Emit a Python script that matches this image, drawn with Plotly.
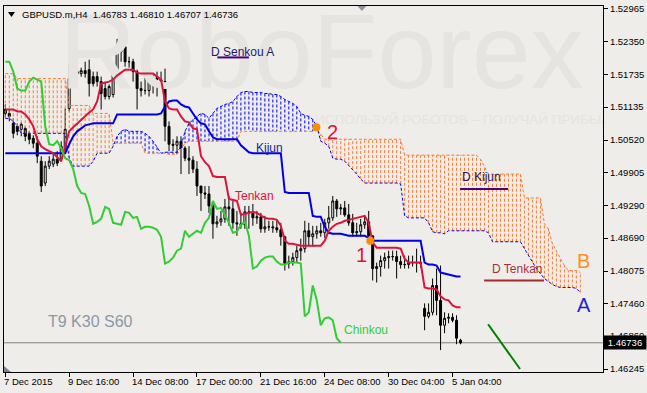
import plotly.graph_objects as go

# ---------------- axis labels ----------------
xtick_idx = [0, 16, 32, 48, 64, 80, 96, 112]
xtick_text = ["7 Dec 2015", "9 Dec 16:00", "14 Dec 08:00", "17 Dec 00:00",
              "21 Dec 16:00", "24 Dec 08:00", "30 Dec 04:00", "5 Jan 04:00"]
ytick_vals = [1.52965, 1.52350, 1.51735, 1.51135, 1.50520, 1.49905,
              1.49290, 1.48690, 1.48075, 1.47460, 1.46860, 1.46245]
ytick_text = ["1.52965", "1.52350", "1.51735", "1.51135", "1.50520", "1.49905",
              "1.49290", "1.48690", "1.48075", "1.47460", "1.46860", "1.46245"]

# ---------------- H4 candles (bar index 0 = 7 Dec 2015 00:00) ----------------
open_ = [1.51090, 1.51016, 1.50831, 1.50775, 1.50719, 1.50738, 1.50627, 1.50552, 1.50460, 1.50125,
         1.49717, 1.50033, 1.50070, 1.50162, 1.50181, 1.50367, 1.51109, 1.51666, 1.51796, 1.51759,
         1.51814, 1.51833, 1.51703, 1.51703, 1.51610, 1.51480, 1.51332, 1.51369, 1.51703, 1.52167,
         1.52260, 1.51981, 1.51981, 1.51796, 1.51480, 1.51443, 1.51443, 1.51610, 1.51684, 1.51647,
         1.51610, 1.50775, 1.50441, 1.50422, 1.50497, 1.50367, 1.50181, 1.50144, 1.49977, 1.49661,
         1.49532, 1.49513, 1.49290, 1.48956, 1.48993, 1.49049, 1.49272, 1.49235, 1.48975, 1.48956,
         1.48938, 1.49179, 1.49160, 1.49067, 1.49086, 1.48863, 1.48900, 1.48900, 1.48882, 1.48845,
         1.48715, 1.48214, 1.48251, 1.48325, 1.48455, 1.48492, 1.48826, 1.48715, 1.48770, 1.48826,
         1.48789, 1.48975, 1.49067, 1.49383, 1.49235, 1.49253, 1.49123, 1.48975, 1.48789, 1.48808,
         1.48938, 1.48993, 1.48733, 1.48121, 1.48158, 1.48269, 1.48325, 1.48344, 1.48344, 1.48251,
         1.48195, 1.48195, 1.48232, 1.48232, 1.48232, 1.47378, 1.47230, 1.47304, 1.47805, 1.47527,
         1.47063, 1.47193, 1.47211, 1.47156, 1.46783]
high_ = [1.51183, 1.51090, 1.50924, 1.50831, 1.50849, 1.50775, 1.50682, 1.50608, 1.50589, 1.50218,
         1.50125, 1.50218, 1.50255, 1.50311, 1.50497, 1.51109, 1.51926, 1.51944, 1.51889, 1.51870,
         1.51981, 1.52019, 1.51796, 1.51796, 1.51703, 1.51610, 1.51555, 1.51796, 1.52408, 1.52353,
         1.52390, 1.52074, 1.52037, 1.51833, 1.51610, 1.51703, 1.51703, 1.51759, 1.51796, 1.51796,
         1.51852, 1.50868, 1.50534, 1.50589, 1.50589, 1.50404, 1.50404, 1.50218, 1.50125, 1.49661,
         1.49661, 1.49661, 1.49383, 1.49105, 1.49197, 1.49420, 1.49476, 1.49383, 1.49197, 1.49160,
         1.49290, 1.49290, 1.49327, 1.49197, 1.49160, 1.49105, 1.49012, 1.49012, 1.49012, 1.48975,
         1.48733, 1.48362, 1.48418, 1.48548, 1.48678, 1.49012, 1.48975, 1.48919, 1.48919, 1.48975,
         1.49049, 1.49290, 1.49476, 1.49420, 1.49327, 1.49383, 1.49327, 1.49142, 1.48975, 1.49049,
         1.49105, 1.49197, 1.48733, 1.48232, 1.48362, 1.48418, 1.48455, 1.48455, 1.48455, 1.48362,
         1.48362, 1.48362, 1.48362, 1.48492, 1.48362, 1.47471, 1.47471, 1.47935, 1.48121, 1.48177,
         1.47304, 1.47286, 1.47286, 1.47249, 1.46810]
low_ = [1.50942, 1.50868, 1.50552, 1.50608, 1.50589, 1.50497, 1.50441, 1.50367, 1.50088, 1.49550,
        1.49661, 1.49977, 1.50014, 1.50033, 1.50125, 1.50311, 1.51053, 1.51610, 1.51703, 1.51703,
        1.51684, 1.51332, 1.51518, 1.51518, 1.51090, 1.51276, 1.51276, 1.51313, 1.51647, 1.51981,
        1.51889, 1.51870, 1.51610, 1.51090, 1.51332, 1.51369, 1.51332, 1.51388, 1.51332, 1.51518,
        1.50497, 1.50311, 1.50311, 1.50274, 1.49884, 1.50125, 1.49884, 1.49903, 1.49476, 1.49197,
        1.49420, 1.49160, 1.48678, 1.48882, 1.48919, 1.48975, 1.48919, 1.48863, 1.48733, 1.48863,
        1.48863, 1.48863, 1.48919, 1.48956, 1.48789, 1.48789, 1.48826, 1.48789, 1.48789, 1.48548,
        1.48084, 1.48121, 1.48177, 1.48232, 1.48269, 1.48418, 1.48548, 1.48529, 1.48678, 1.48715,
        1.48696, 1.48863, 1.49012, 1.49086, 1.49123, 1.49086, 1.48919, 1.48715, 1.48715, 1.48715,
        1.48863, 1.48641, 1.47898, 1.47861, 1.47972, 1.48121, 1.48121, 1.48269, 1.47935, 1.48121,
        1.48121, 1.48121, 1.48158, 1.48047, 1.48139, 1.46970, 1.47193, 1.47249, 1.47249, 1.46599,
        1.46914, 1.47100, 1.47119, 1.46710, 1.46707]
close_ = [1.51016, 1.50961, 1.50645, 1.50682, 1.50812, 1.50589, 1.50534, 1.50460, 1.50218, 1.49661,
          1.50033, 1.50125, 1.50162, 1.50088, 1.50404, 1.50719, 1.51666, 1.51814, 1.51759, 1.51814,
          1.51759, 1.51573, 1.51573, 1.51610, 1.51388, 1.51332, 1.51518, 1.51740, 1.52204, 1.52260,
          1.51981, 1.51981, 1.51796, 1.51480, 1.51443, 1.51443, 1.51610, 1.51684, 1.51647, 1.51610,
          1.50775, 1.50441, 1.50422, 1.50497, 1.50367, 1.50181, 1.50144, 1.49977, 1.49661, 1.49532,
          1.49513, 1.49290, 1.48956, 1.48993, 1.49049, 1.49272, 1.49235, 1.48975, 1.48956, 1.48938,
          1.49179, 1.49160, 1.49067, 1.49086, 1.48863, 1.48900, 1.48900, 1.48882, 1.48845, 1.48715,
          1.48214, 1.48251, 1.48325, 1.48455, 1.48492, 1.48826, 1.48715, 1.48770, 1.48826, 1.48789,
          1.48975, 1.49067, 1.49383, 1.49235, 1.49253, 1.49123, 1.48975, 1.48789, 1.48808, 1.48938,
          1.48993, 1.48733, 1.48121, 1.48158, 1.48269, 1.48325, 1.48344, 1.48344, 1.48251, 1.48195,
          1.48195, 1.48232, 1.48232, 1.48232, 1.48214, 1.47230, 1.47304, 1.47805, 1.47527, 1.47063,
          1.47193, 1.47211, 1.47156, 1.46822, 1.46736]

# ---------------- Ichimoku (9, 30, 60) ----------------
tenkan = [1.51090, 1.51090, 1.51090, 1.51053, 1.51053, 1.50998, 1.50905, 1.50775, 1.50534, 1.50404,
          1.50348, 1.50311, 1.50274, 1.50200, 1.50125, 1.50404, 1.50682, 1.50757, 1.50831, 1.50905,
          1.50961, 1.51035, 1.51090, 1.51239, 1.51573, 1.51592, 1.51610, 1.51647, 1.51722, 1.51777,
          1.51833, 1.51833, 1.51833, 1.51777, 1.51759, 1.51759, 1.51759, 1.51759, 1.51703, 1.51647,
          1.51239, 1.51109, 1.51090, 1.51090, 1.50961, 1.50868, 1.50849, 1.50738, 1.50719, 1.50218,
          1.50107, 1.50033, 1.49847, 1.49828, 1.49828, 1.49828, 1.49420, 1.49402, 1.49383, 1.49123,
          1.49142, 1.49160, 1.49179, 1.49160, 1.49105, 1.49067, 1.49049, 1.49049, 1.49030, 1.48919,
          1.48641, 1.48585, 1.48585, 1.48566, 1.48548, 1.48548, 1.48548, 1.48548, 1.48548, 1.48548,
          1.48641, 1.48826, 1.48900, 1.48956, 1.48975, 1.49012, 1.49030, 1.49049, 1.49067, 1.49086,
          1.49105, 1.48975, 1.48603, 1.48511, 1.48511, 1.48511, 1.48511, 1.48511, 1.48511, 1.48492,
          1.48306, 1.48232, 1.48232, 1.48232, 1.48232, 1.47768, 1.47750, 1.47750, 1.47731, 1.47601,
          1.47546, 1.47527, 1.47434, 1.47397, 1.47397]
kijun = [1.50274, 1.50274, 1.50274, 1.50274, 1.50274, 1.50274, 1.50274, 1.50274, 1.50274, 1.50274,
         1.50274, 1.50274, 1.50274, 1.50274, 1.50274, 1.50274, 1.50441, 1.50589, 1.50682, 1.50738,
         1.50794, 1.50812, 1.50831, 1.50831, 1.50831, 1.50831, 1.50831, 1.50831, 1.50998, 1.50998,
         1.50998, 1.50998, 1.50998, 1.50998, 1.50998, 1.50998, 1.50998, 1.50998, 1.50998, 1.51016,
         1.51146, 1.51239, 1.51258, 1.51258, 1.51183, 1.51146, 1.51128, 1.51016, 1.50905, 1.50831,
         1.50812, 1.50682, 1.50571, 1.50534, 1.50534, 1.50534, 1.50534, 1.50534, 1.50534, 1.50422,
         1.50348, 1.50292, 1.50274, 1.50274, 1.50274, 1.50274, 1.50274, 1.50274, 1.50274, 1.50274,
         1.49550, 1.49532, 1.49532, 1.49532, 1.49532, 1.49532, 1.49532, 1.49105, 1.49086, 1.49086,
         1.48900, 1.48789, 1.48770, 1.48770, 1.48770, 1.48752, 1.48733, 1.48733, 1.48733, 1.48733,
         1.48733, 1.48696, 1.48641, 1.48641, 1.48641, 1.48641, 1.48641, 1.48641, 1.48641, 1.48641,
         1.48641, 1.48641, 1.48641, 1.48641, 1.48641, 1.48232, 1.48195, 1.48195, 1.48177, 1.48047,
         1.48028, 1.48010, 1.47991, 1.47972, 1.47972]
chinkou = [1.51981, 1.51981, 1.51796, 1.51480, 1.51443, 1.51443, 1.51610, 1.51684, 1.51647, 1.51610,
           1.50775, 1.50441, 1.50422, 1.50497, 1.50367, 1.50181, 1.50144, 1.49977, 1.49661, 1.49532,
           1.49513, 1.49290, 1.48956, 1.48993, 1.49049, 1.49272, 1.49235, 1.48975, 1.48956, 1.48938,
           1.49179, 1.49160, 1.49067, 1.49086, 1.48863, 1.48900, 1.48900, 1.48882, 1.48845, 1.48715,
           1.48214, 1.48251, 1.48325, 1.48455, 1.48492, 1.48826, 1.48715, 1.48770, 1.48826, 1.48789,
           1.48975, 1.49067, 1.49383, 1.49235, 1.49253, 1.49123, 1.48975, 1.48789, 1.48808, 1.48938,
           1.48993, 1.48733, 1.48121, 1.48158, 1.48269, 1.48325, 1.48344, 1.48344, 1.48251, 1.48195,
           1.48195, 1.48232, 1.48232, 1.48232, 1.48214, 1.47230, 1.47304, 1.47805, 1.47527, 1.47063,
           1.47193, 1.47211, 1.47156, 1.46822, 1.46736]
senkou_a = [1.50924, 1.50924, 1.50868, 1.50775, 1.50645, 1.50645, 1.50645, 1.50645, 1.50645, 1.50645,
            1.50645, 1.50645, 1.50645, 1.50645, 1.50645, 1.50645, 1.50181, 1.50033, 1.50033, 1.50033,
            1.50033, 1.50033, 1.50125, 1.50274, 1.50274, 1.50274, 1.50274, 1.50404, 1.50589, 1.50682,
            1.50719, 1.50682, 1.50682, 1.50682, 1.50682, 1.50645, 1.50589, 1.50497, 1.50385, 1.50274,
            1.50292, 1.50292, 1.50292, 1.50292, 1.50404, 1.50682, 1.50831, 1.50905, 1.50961, 1.51016,
            1.50998, 1.50924, 1.51016, 1.51109, 1.51146, 1.51183, 1.51202, 1.51239, 1.51332, 1.51406,
            1.51425, 1.51425, 1.51406, 1.51406, 1.51406, 1.51388, 1.51388, 1.51369, 1.51369, 1.51332,
            1.51276, 1.51239, 1.51202, 1.51146, 1.51016, 1.50979, 1.50961, 1.50905, 1.50775, 1.50497,
            1.50460, 1.50404, 1.50181, 1.50162, 1.50162, 1.50125, 1.50051, 1.49977, 1.49884, 1.49791,
            1.49717, 1.49717, 1.49717, 1.49717, 1.49717, 1.49717, 1.49717, 1.49717, 1.49717, 1.49699,
            1.49105, 1.49067, 1.49067, 1.49067, 1.49067, 1.49067, 1.48975, 1.48808, 1.48789, 1.48789,
            1.48770, 1.48826, 1.48826, 1.48826, 1.48826, 1.48826, 1.48826, 1.48826, 1.48826, 1.48826,
            1.48826, 1.48789, 1.48622, 1.48622, 1.48622, 1.48622, 1.48622, 1.48622, 1.48622, 1.48622,
            1.48492, 1.48362, 1.48232, 1.48121, 1.48028, 1.47935, 1.47880, 1.47824, 1.47787, 1.47768,
            1.47768, 1.47768, 1.47768, 1.47750, 1.47675]
senkou_b = [1.51759, 1.51759, 1.51759, 1.51666, 1.51666, 1.51666, 1.51666, 1.51666, 1.51666, 1.51666,
            1.51666, 1.51666, 1.51666, 1.51666, 1.51666, 1.51666, 1.51165, 1.51165, 1.51165, 1.51165,
            1.51165, 1.51165, 1.51016, 1.51016, 1.51016, 1.51016, 1.51016, 1.50460, 1.50460, 1.50460,
            1.50460, 1.50460, 1.50460, 1.50460, 1.50460, 1.50274, 1.50274, 1.50274, 1.50274, 1.50274,
            1.50274, 1.50255, 1.50255, 1.50255, 1.50348, 1.50460, 1.50497, 1.50497, 1.50497, 1.50497,
            1.50497, 1.50497, 1.50497, 1.50497, 1.50497, 1.50497, 1.50497, 1.50497, 1.50497, 1.50682,
            1.50682, 1.50682, 1.50682, 1.50682, 1.50682, 1.50682, 1.50682, 1.50682, 1.50682, 1.50682,
            1.50682, 1.50682, 1.50682, 1.50682, 1.50682, 1.50682, 1.50682, 1.50682, 1.50719, 1.50627,
            1.50534, 1.50534, 1.50534, 1.50534, 1.50534, 1.50534, 1.50534, 1.50534, 1.50534, 1.50534,
            1.50534, 1.50534, 1.50534, 1.50534, 1.50534, 1.50534, 1.50534, 1.50534, 1.50534, 1.50534,
            1.50237, 1.50237, 1.50237, 1.50237, 1.50237, 1.50237, 1.50237, 1.50237, 1.50237, 1.50237,
            1.50237, 1.50237, 1.50237, 1.50237, 1.50237, 1.50237, 1.50237, 1.50237, 1.50237, 1.50162,
            1.50033, 1.49884, 1.49884, 1.49884, 1.49884, 1.49884, 1.49884, 1.49884, 1.49884, 1.49884,
            1.49439, 1.49439, 1.49439, 1.49439, 1.49439, 1.48956, 1.48863, 1.48585, 1.48455, 1.48306,
            1.48177, 1.48084, 1.48084, 1.48084, 1.48047]

last_price = 1.46736
header_text = "GBPUSD.m,H4\u00a0\u00a01.46783 1.46810 1.46707 1.46736"

# signal points (Tenkan/Kijun cross "1", Senkou cross "2")
signal_x = [77.9, 91.4]
signal_y = [1.50757, 1.48641]
# hand-drawn trend line
trend_x = [120.9, 128.9]
trend_y = [1.47081, 1.46247]
# daily Ichimoku levels: (x0, x1, price, color)
d_levels = [(53.1, 61.0, 1.52061, "#4B0082"),
            (113.9, 125.9, 1.49606, "#4B0082"),
            (119.9, 134.9, 1.47898, "#A52A2A")]
# text labels: (text, x, price, color, size, anchor)
labels = [("D Senkou A", 50.9, 1.52167, "#1c1c6e", 12, "left"),
          ("Kijun", 62.2, 1.50367, "#22229a", 12, "left"),
          ("Tenkan", 56.9, 1.49476, "#DC143C", 12, "left"),
          ("Chinkou", 84.4, 1.46970, "#32CD32", 12, "left"),
          ("D Kijun", 113.9, 1.49828, "#1c1c6e", 12, "left"),
          ("D Tenkan", 121.4, 1.48111, "#A8303A", 12, "left"),
          ("1", 89.2, 1.48371, "#DC143C", 20, "center"),
          ("2", 81.9, 1.50673, "#DC143C", 20, "center"),
          ("B", 144.9, 1.48269, "#FF9020", 20, "center"),
          ("A", 145.0, 1.47434, "#1E1ED0", 20, "center"),
          ("T9 K30 S60", 10.2, 1.47137, "#8C98A8", 16, "left")]

# ---------------- style ----------------
BG = "#EEEDE9"
WM = "#E5E4E0"
ORANGE = "#FF7A30"
BLUE = "#0000FF"
FONT = "Liberation Sans, Arial, sans-serif"
DOT = "3px,2px"

bars_x = list(range(len(close_)))
cloud_x = list(range(len(senkou_a)))
chik_x = list(range(len(chinkou)))

fig = go.Figure()

# watermark (drawn first so it stays behind)
fig.add_trace(go.Scatter(x=[79.2], y=[1.51981], mode="text", text=["RoboForex"],
                         textfont=dict(family=FONT, size=106, color=WM),
                         textposition="middle center", hoverinfo="skip"))
fig.add_trace(go.Scatter(x=[77.6], y=[1.50886], mode="text",
                         text=["ИСПОЛЬЗУЙ РОБОТОВ – ПОЛУЧАЙ ПРИБЫЛЬ"],
                         textfont=dict(family=FONT, size=13.5, color=WM),
                         textposition="middle right", hoverinfo="skip"))

# cloud hatch: one dotted vertical line per bar between Senkou A and B
ox, oy, bx, by = [], [], [], []
for i, (a, b) in enumerate(zip(senkou_a, senkou_b)):
    if b > a:
        ox += [i, i, None]; oy += [a, b, None]
    else:
        bx += [i, i, None]; by += [a, b, None]
fig.add_trace(go.Scatter(x=ox, y=oy, mode="lines", line=dict(color=ORANGE, width=1, dash=DOT),
                         hoverinfo="skip", connectgaps=False))
fig.add_trace(go.Scatter(x=bx, y=by, mode="lines", line=dict(color=BLUE, width=1, dash=DOT),
                         hoverinfo="skip", connectgaps=False))
fig.add_trace(go.Scatter(x=cloud_x, y=senkou_b, mode="lines",
                         line=dict(color=ORANGE, width=1, dash=DOT), hoverinfo="skip"))
fig.add_trace(go.Scatter(x=cloud_x, y=senkou_a, mode="lines",
                         line=dict(color=BLUE, width=1, dash=DOT), hoverinfo="skip"))

# candles
fig.add_trace(go.Candlestick(x=bars_x, open=open_, high=high_, low=low_, close=close_,
                             increasing=dict(line=dict(color="black", width=1), fillcolor="white"),
                             decreasing=dict(line=dict(color="black", width=1), fillcolor="black"),
                             whiskerwidth=0, hoverinfo="skip"))

# Ichimoku lines
fig.add_trace(go.Scatter(x=bars_x, y=kijun, mode="lines", line=dict(color="#0000E6", width=2), hoverinfo="skip"))
fig.add_trace(go.Scatter(x=bars_x, y=tenkan, mode="lines", line=dict(color="#DC143C", width=2), hoverinfo="skip"))
fig.add_trace(go.Scatter(x=chik_x, y=chinkou, mode="lines", line=dict(color="#32CD32", width=2), hoverinfo="skip"))

# daily levels
for x0, x1, p, c in d_levels:
    fig.add_trace(go.Scatter(x=[x0, x1], y=[p, p], mode="lines", line=dict(color=c, width=2), hoverinfo="skip"))

# trend line
fig.add_trace(go.Scatter(x=trend_x, y=trend_y, mode="lines", line=dict(color="#008000", width=2), hoverinfo="skip"))

# signal markers
fig.add_trace(go.Scatter(x=signal_x, y=signal_y, mode="markers",
                         marker=dict(color="#FF8C00", size=8, line=dict(width=0)), hoverinfo="skip"))

annotations = []
for t, x, p, c, s, anc in labels:
    annotations.append(dict(x=x, y=p, xref="x", yref="y", text=t, showarrow=False,
                            xanchor=anc, yanchor="middle",
                            font=dict(family=FONT, size=s, color=c)))
for idx, t in zip(xtick_idx, xtick_text):
    annotations.append(dict(x=idx, y=0, xref="x", yref="paper", text=t, showarrow=False,
                            xanchor="left", yanchor="top", xshift=-3, yshift=-2,
                            font=dict(family=FONT, size=9.5, color="black")))
annotations.append(dict(x=0.0267, y=0.9755, xref="paper", yref="paper", text=header_text,
                        showarrow=False, xanchor="left", yanchor="middle",
                        font=dict(family=FONT, size=9.5, color="black")))
annotations.append(dict(x=1.0, y=last_price, xref="paper", yref="y", text="1.46736",
                        showarrow=False, xanchor="left", yanchor="middle", bgcolor="black",
                        borderpad=1, width=40, height=11, align="center",
                        font=dict(family=FONT, size=9.5, color="white")))

shapes = [
    dict(type="line", xref="paper", yref="y", x0=0, x1=1, y0=last_price, y1=last_price,
         line=dict(color="#808080", width=1), layer="below"),
    dict(type="path", xref="paper", yref="paper",
         path="M 0.0067 0.9837 L 0.0183 0.9837 L 0.0125 0.9701 Z",
         fillcolor="black", line=dict(width=0)),
    dict(type="path", xref="paper", yref="paper",
         path="M 0.590 1.0 L 0.605 1.0 L 0.5975 0.9864 Z",
         fillcolor="#8f949c", line=dict(width=0)),
    dict(type="path", xref="paper", yref="paper",
         path="M 0 0.0163 L 0 0 L 0.0117 0 Z",
         fillcolor="#7d8290", line=dict(width=0)),
]

fig.update_layout(
    width=647, height=393,
    margin=dict(l=3, r=44, t=4, b=21),
    paper_bgcolor=BG, plot_bgcolor=BG,
    showlegend=False,
    font=dict(family=FONT, size=9.5, color="black"),
    annotations=annotations, shapes=shapes,
    xaxis=dict(range=[-0.325, 149.675], showgrid=False, zeroline=False,
               showline=True, linecolor="black", linewidth=1, mirror=True,
               ticks="outside", ticklen=4, tickcolor="black", tickvals=xtick_idx,
               showticklabels=False, rangeslider=dict(visible=False), fixedrange=True),
    yaxis=dict(range=[1.461907, 1.530208], side="right", showgrid=False, zeroline=False,
               showline=True, linecolor="black", linewidth=1, mirror=True,
               ticks="outside", ticklen=4, tickcolor="black",
               tickvals=ytick_vals, ticktext=ytick_text,
               tickfont=dict(family=FONT, size=9.5, color="black"), fixedrange=True),
)

fig.write_html("out.html")
